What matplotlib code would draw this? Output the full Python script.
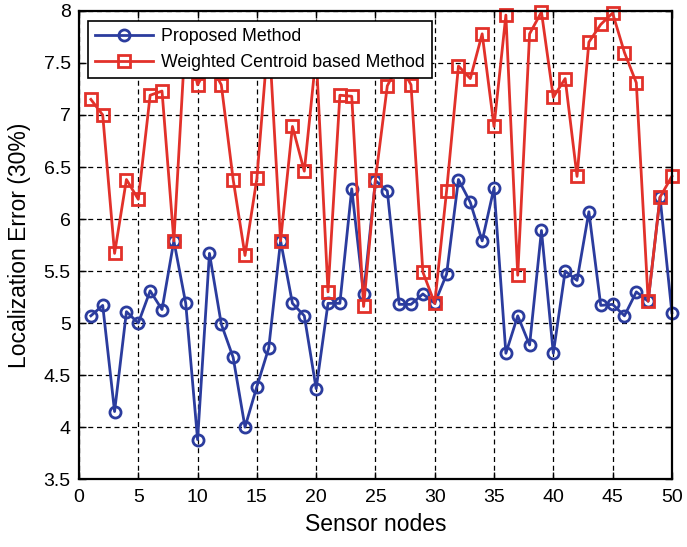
import numpy as np
import matplotlib
matplotlib.use('Agg')
import matplotlib.pyplot as plt

plt.rcParams['font.family'] = ['Liberation Sans', 'DejaVu Sans']

# sensor node index
nodes = np.arange(1, 51)

# localization error
proposed = [5.07, 5.17, 4.15, 5.11, 5.00, 5.31, 5.13, 5.79, 5.19, 3.88,
            5.67, 4.99, 4.67, 4.00, 4.39, 4.76, 5.79, 5.19, 5.07, 4.37,
            5.19, 5.19, 6.29, 5.28, 6.37, 6.27, 5.18, 5.18, 5.28, 5.19,
            5.47, 6.38, 6.16, 5.79, 6.30, 4.71, 5.07, 4.79, 5.89, 4.71,
            5.50, 5.41, 6.07, 5.17, 5.18, 5.07, 5.30, 5.21, 6.21, 5.10]

weighted = [7.15, 7.00, 5.67, 6.38, 6.19, 7.19, 7.23, 5.79, 7.80, 7.29,
            7.50, 7.29, 6.38, 5.65, 6.39, 7.80, 5.79, 6.89, 6.46, 7.58,
            5.30, 7.19, 7.18, 5.16, 6.38, 7.28, 7.50, 7.29, 5.49, 5.19,
            6.27, 7.47, 7.35, 7.78, 6.89, 7.96, 5.46, 7.78, 7.99, 7.17,
            7.35, 6.41, 7.70, 7.87, 7.98, 7.60, 7.31, 5.21, 6.21, 6.41]

xticks = np.arange(0, 51, 5)
yticks = np.arange(3.5, 8.01, 0.5)

fig = plt.figure(figsize=(6.87, 5.47), dpi=100)
ax = fig.add_axes([0.115, 0.124, 0.863, 0.856])

ax.plot(nodes, proposed, color='#2b3c9e', lw=2, marker='o', ms=8,
        mfc='none', mew=2, label='Proposed Method', clip_on=False)
ax.plot(nodes, weighted, color='#e2312a', lw=2, marker='s', ms=8,
        mfc='none', mew=2, label='Weighted Centroid based Method', clip_on=False)

ax.set_xlim(0, 50)
ax.set_ylim(3.5, 8)
ax.set_xticks(xticks)
ax.set_yticks(yticks)
ax.set_yticklabels(['%g' % v for v in yticks])
ax.tick_params(direction='in', top=True, right=True, labelsize=14, length=5, width=1)
ax.tick_params(axis='x', pad=7)
ax.tick_params(axis='y', pad=6)
ax.grid(True, color='black', linestyle=(0, (4, 3)), linewidth=0.9)
for s in ax.spines.values():
    s.set_linewidth(1.6)

ax.set_xlabel('Sensor nodes', fontsize=16.5, labelpad=5)
ax.set_ylabel('Localization Error (30%)', fontsize=16.5, labelpad=9)

leg = ax.legend(loc='upper left', bbox_to_anchor=(0.015, 0.978), borderaxespad=0,
                fancybox=False, framealpha=1, edgecolor='black', fontsize=12.75,
                handlelength=3.3, handletextpad=0.45, labelspacing=0.5, borderpad=0.4)
leg.get_frame().set_linewidth(1.2)
leg.set_zorder(10)

fig.savefig('out.png', dpi=100)
